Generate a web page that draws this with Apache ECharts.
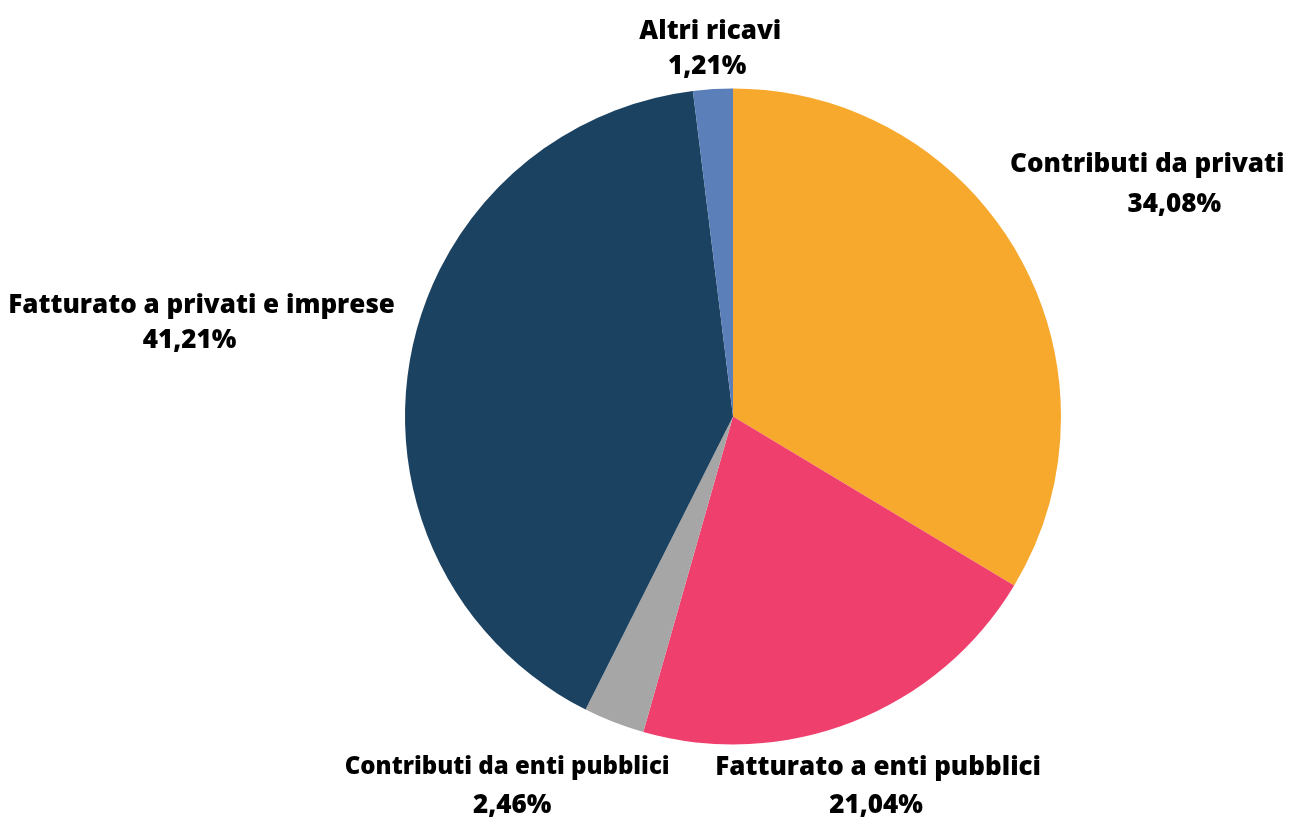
<!DOCTYPE html>
<html><head><meta charset="utf-8">
<script src="https://cdn.jsdelivr.net/npm/echarts@6/dist/echarts.min.js"></script>
<style>html,body{margin:0;padding:0;background:#fff}#c{width:1291px;height:831px}</style>
</head><body><div id="c"></div>
<script>
// Slice shares as drawn in the picture (measured), and the printed percentage labels
const categories = ['Contributi da privati','Fatturato a enti pubblici','Contributi da enti pubblici','Fatturato a privati e imprese','Altri ricavi'];
const values = [33.61, 20.80, 3.01, 40.63, 1.95];
const percentLabels = ['34,08%','21,04%','2,46%','41,21%','1,21%'];

// styles
const colors = ['#F7A92D','#EF3F6D','#A6A6A6','#1C4261','#5B7FB9'];
const labelRadius = [476, 395, 431, 540, 371];
const labelAngleShift = [0, 0, 10.3, 0.4, 0];
const lineHeights = [40, 38, 38, 35, 35];
const pctShift = [27, -2, 5, -12, -3];
const nameFontSizes = [26, 26, 24, 26, 26];
const LABEL_Y_NUDGE = 3;

const CX = 733, CY = 416.5, R = 328;
const total = values.reduce((a,b)=>a+b,0);
const mids = [];
let acc = 0;
values.forEach(v => { mids.push((acc + v/2) / total * 360); acc += v; });

const FONT = 'Open Sans';
const chart = echarts.init(document.getElementById('c'));
chart.setOption({
  animation: false,
  series: [{
    type: 'pie',
    center: [CX, CY],
    radius: R,
    startAngle: 90,
    clockwise: true,
    avoidLabelOverlap: false,
    labelLine: { show: false },
    itemStyle: { borderWidth: 0 },
    label: { show: true, position: 'outside' },
    data: categories.map((n,i)=>{
      const s = pctShift[i];
      return {
        name: n, value: values[i],
        itemStyle: { color: colors[i] },
        label: {
          formatter: '{n|' + n + '}\n{p|' + percentLabels[i] + '}',
          rich: {
            n: { fontFamily: FONT, fontWeight: 800, fontSize: nameFontSizes[i], color: '#000', lineHeight: lineHeights[i], align: 'center' },
            p: { fontFamily: FONT, fontWeight: 800, fontSize: 26, color: '#000', lineHeight: lineHeights[i], align: 'center',
                 padding: s >= 0 ? [0, 0, 0, 2*s] : [0, -2*s, 0, 0] }
          }
        }
      };
    }),
    labelLayout: function(p) {
      const i = p.dataIndex;
      const a = (mids[i] + labelAngleShift[i]) * Math.PI / 180;
      const r = labelRadius[i];
      return {
        x: CX + r*Math.sin(a),
        y: CY - r*Math.cos(a) + LABEL_Y_NUDGE,
        align: 'center',
        verticalAlign: 'middle'
      };
    }
  }]
});
</script>
</body></html>
